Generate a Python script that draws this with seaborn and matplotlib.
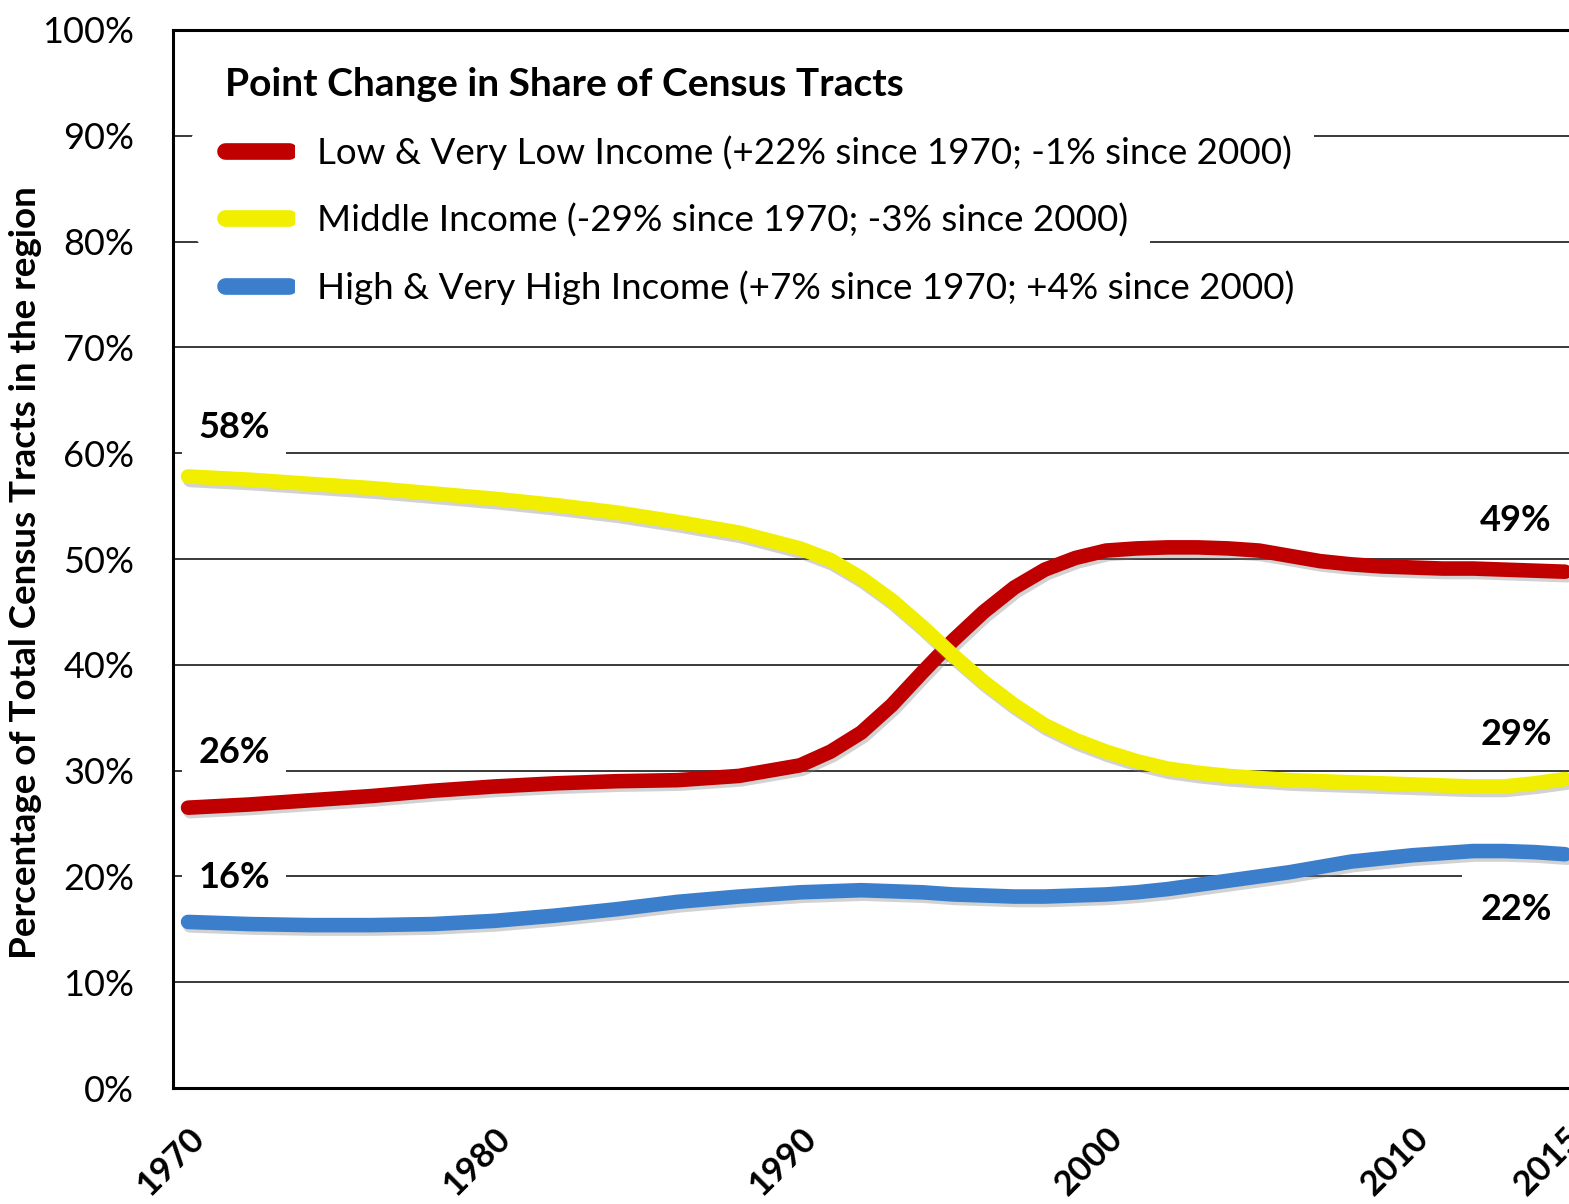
import matplotlib
matplotlib.use("Agg")
import numpy as np
import pandas as pd
import seaborn as sns
import matplotlib.pyplot as plt
import matplotlib.patheffects as pe

# data (percent of census tracts)
years = [1970, 1972, 1974, 1976, 1978, 1980, 1982, 1984, 1986, 1988,
         1990, 1991, 1992, 1993, 1994, 1995, 1996, 1997, 1998, 1999,
         2000, 2001, 2002, 2003, 2004, 2005, 2006, 2007, 2008, 2009,
         2010, 2011, 2012, 2013, 2014, 2015]
low_income = [26.5, 26.8, 27.2, 27.6, 28.1, 28.5, 28.8, 29.0, 29.1, 29.5,
              30.5, 31.8, 33.6, 36.2, 39.3, 42.3, 45.0, 47.3, 49.0, 50.1,
              50.8, 51.0, 51.1, 51.1, 51.0, 50.8, 50.3, 49.8, 49.5, 49.3,
              49.2, 49.1, 49.1, 49.0, 48.9, 48.8]
middle_income = [57.8, 57.5, 57.1, 56.7, 56.2, 55.7, 55.1, 54.4, 53.5, 52.5,
                 51.0, 49.9, 48.2, 46.1, 43.6, 40.9, 38.4, 36.2, 34.3, 32.9,
                 31.8, 30.9, 30.2, 29.8, 29.5, 29.3, 29.1, 29.0, 28.9, 28.8,
                 28.7, 28.6, 28.5, 28.5, 28.8, 29.2]
high_income = [15.7, 15.5, 15.4, 15.4, 15.5, 15.8, 16.3, 16.9, 17.6, 18.1,
               18.5, 18.6, 18.7, 18.6, 18.5, 18.3, 18.2, 18.1, 18.1, 18.2,
               18.3, 18.5, 18.8, 19.2, 19.6, 20.0, 20.4, 20.9, 21.4, 21.7,
               22.0, 22.2, 22.4, 22.4, 22.3, 22.1]

series_names = ["Low & Very Low Income (+22% since 1970; -1% since 2000)",
                "Middle Income (-29% since 1970; -3% since 2000)",
                "High & Very High Income (+7% since 1970; +4% since 2000)"]
start_labels = ["26%", "58%", "16%"]
end_labels = ["49%", "29%", "22%"]
year_labels = [1970, 1980, 1990, 2000, 2010, 2015]

colors = ["#c00000", "#f2ee00", "#3b7fcc"]

df = pd.concat([
    pd.DataFrame({"year": years, "share": vals, "group": name})
    for name, vals in zip(series_names, [low_income, middle_income, high_income])
])

sns.set_style("white")
plt.rcParams["font.family"] = ["Lato", "DejaVu Sans"]
plt.rcParams["text.color"] = "black"
plt.rcParams["axes.labelcolor"] = "black"
plt.rcParams["xtick.color"] = "black"
plt.rcParams["ytick.color"] = "black"

fig = plt.figure(figsize=(15.69, 12.04), dpi=100)
ax = fig.add_axes([0.1103, 0.0963, 0.8897, 0.8788])

sns.lineplot(data=df, x="year", y="share", hue="group", palette=colors,
             linewidth=10.5, sort=False, ax=ax, zorder=5)
for ln in ax.get_lines():
    ln.set_solid_capstyle("round")
    ln.set_path_effects([pe.SimpleLineShadow(offset=(1.5, -2.5), shadow_color="gray", alpha=0.35),
                         pe.Normal()])

ax.set_xlim(1969.51, 2015.13)
ax.set_ylim(0, 100)

# grid
ax.set_yticks(range(0, 101, 10))
ax.set_yticklabels([f"{v}%" for v in range(0, 101, 10)], fontsize=26)
ax.yaxis.grid(True, color="#2a2a2a", linewidth=1.3, zorder=0)
ax.set_axisbelow(True)

ax.set_xticks(range(1970, 2016))
ax.set_xticklabels([str(y) if y in year_labels else "" for y in range(1970, 2016)],
                   rotation=45, ha="right", rotation_mode="anchor",
                   fontsize=25, fontweight="bold")
ax.tick_params(axis="x", direction="out", length=8, width=1, color="#444444", pad=16)
ax.tick_params(axis="y", direction="out", length=4, width=1, color="#444444", pad=24)

for side in ["top", "left", "bottom"]:
    ax.spines[side].set_color("black")
    ax.spines[side].set_linewidth(2.2)
ax.spines["right"].set_visible(False)

ax.set_xlabel("")
ax.set_ylabel("Percentage of Total Census Tracts in the region",
              fontsize=26.5, fontweight="bold")
ax.yaxis.set_label_coords(-0.094, 0.487)

# value labels at both ends
series_vals = [low_income, middle_income, high_income]
start_off = [40, 35, 32]
end_off = [37, 32, -40]
for vals, lab, off in zip(series_vals, start_labels, start_off):
    ax.annotate(lab, (1971.5, vals[0]), xytext=(0, off), textcoords="offset points",
                ha="center", va="center", fontsize=26, fontweight="bold", zorder=3,
                bbox=dict(facecolor="white", edgecolor="none", pad=12))
for vals, lab, off in zip(series_vals, end_labels, end_off):
    ax.annotate(lab, (2013.4, vals[-1]), xytext=(0, off), textcoords="offset points",
                ha="center", va="center", fontsize=26, fontweight="bold", zorder=3,
                bbox=dict(facecolor="white", edgecolor="none", pad=13))

# legend
leg = ax.legend(title="Point Change in Share of Census Tracts", loc="upper left",
                bbox_to_anchor=(0.024, 0.982), frameon=False, fontsize=26.5,
                title_fontproperties={"weight": "bold", "size": 28},
                alignment="left", handlelength=1.75, handletextpad=0.75,
                labelspacing=0.9, borderpad=0)
for h in leg.legend_handles:
    h.set_linewidth(12)
    h.set_solid_capstyle("round")
    h.set_path_effects([pe.withStroke(linewidth=52, foreground="white")])
for t in leg.get_texts():
    t.set_bbox(dict(facecolor="white", edgecolor="none", pad=16))
leg.set_zorder(4)

fig.savefig("out.png", dpi=100)
